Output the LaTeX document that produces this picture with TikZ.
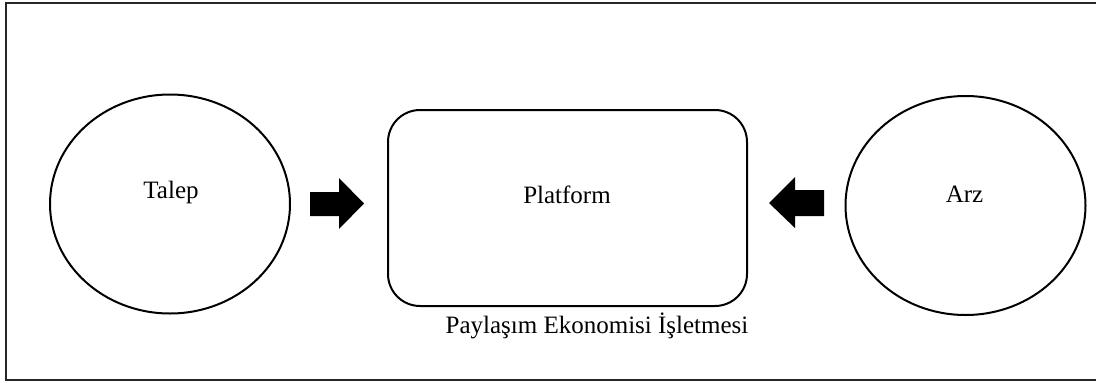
\documentclass[tikz,border=0pt]{standalone}
\usepackage{fontspec}
\setmainfont{Liberation Serif}
\usetikzlibrary{shapes.geometric}
\tikzset{
  oval/.style={ellipse, draw=black, line width=2pt, inner sep=0pt, minimum width=240pt, minimum height=219pt},
  platformbox/.style={rectangle, draw=black, line width=2pt, rounded corners=32pt, inner sep=0pt, minimum width=359pt, minimum height=196pt},
  txt/.style={anchor=base, inner sep=0pt, font=\fontsize{25}{30}\selectfont},
  blockarrow/.style={fill=black},
  frame/.style={draw=black!85, line width=2.5pt}
}
\begin{document}
\begin{tikzpicture}[x=1pt,y=-1pt]
\useasboundingbox (0,0) rectangle (1096,383);
\draw[frame] (6,3) rectangle (1100,380);
\node[oval] (talep) at (170,204) {};
\node[oval] (arz) at (965.5,205.5) {};
\node[platformbox] (platform) at (567.5,208) {};
\node[txt] (talept) at (171,198.5) {Talep};
\node[txt] (platformt) at (567,203) {Platform};
\node[txt] (arzt) at (964.5,202) {Arz};
\node[txt] (caption) at (597,333.5) {Paylaşım Ekonomisi İşletmesi};
% right-pointing block arrow
\fill[blockarrow] (310,192) -- (339,192) -- (339,178) -- (364,203.5) -- (339,229) -- (339,216) -- (310,216) -- cycle;
% left-pointing block arrow
\fill[blockarrow] (824,190) -- (795,190) -- (795,177) -- (769,203) -- (795,228) -- (795,216) -- (824,216) -- cycle;
\end{tikzpicture}
\end{document}
